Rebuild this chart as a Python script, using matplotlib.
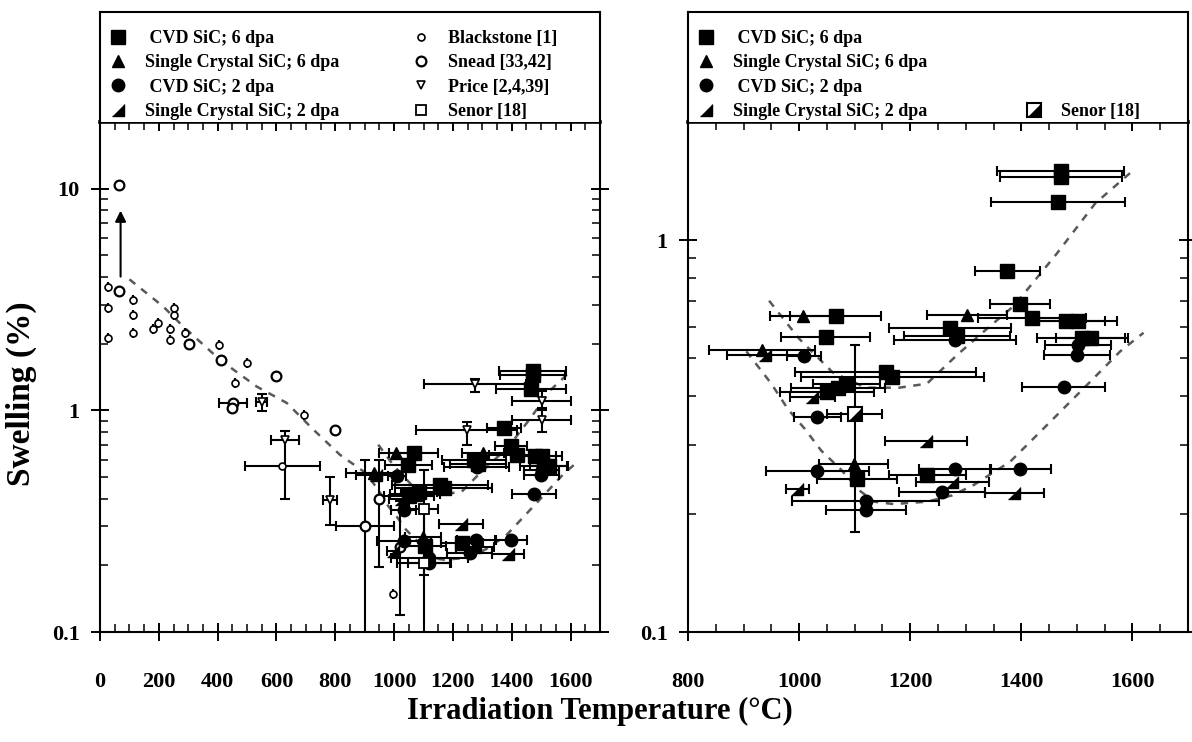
import numpy as np
import matplotlib
matplotlib.use("Agg")
import matplotlib.pyplot as plt
from matplotlib.ticker import MultipleLocator, FixedLocator, LogLocator, FuncFormatter, NullFormatter
from matplotlib.legend_handler import HandlerTuple

plt.rcParams['font.family'] = ['Liberation Serif', 'DejaVu Serif']
plt.rcParams['font.weight'] = 'bold'

# ---------------- data ----------------
# CVD SiC, 6 dpa (filled squares)
cvd6_T = [1471, 1471, 1466, 1375, 1398, 1419, 1480, 1502, 1510, 1525, 1066, 1048,
          1272, 1284, 1156, 1168, 1050, 1070, 1085, 1104, 1231]
cvd6_S = [1.50, 1.45, 1.25, 0.835, 0.687, 0.631, 0.622, 0.622, 0.561, 0.561, 0.64, 0.567,
          0.595, 0.57, 0.461, 0.448, 0.41, 0.42, 0.43, 0.245, 0.252]
cvd6_dT = [114, 110, 120, 58, 54, 97, 70, 70, 82, 62, 82, 80,
           110, 95, 163, 165, 85, 85, 60, 72, 70]

# Single crystal SiC, 6 dpa (filled triangles)
sc6_T = [1007, 933, 1302, 1098]
sc6_S = [0.64, 0.524, 0.644, 0.269]
sc6_dT = [60, 95, 72, 62]

# CVD SiC, 2 dpa (filled circles)
cvd2_T = [1009, 1033, 1281, 1502, 1500, 1476, 1033, 1120, 1120, 1257, 1280, 1398]
cvd2_S = [0.506, 0.354, 0.556, 0.54, 0.509, 0.421, 0.257, 0.216, 0.205, 0.228, 0.26, 0.26]
cvd2_dT = [30, 42, 110, 60, 60, 75, 92, 132, 72, 77, 65, 55]

# Single crystal SiC, 2 dpa (half triangles)
sc2_T = [939, 1024, 1228, 997, 1276, 1387]
sc2_S = [0.51, 0.398, 0.307, 0.232, 0.241, 0.226]
sc2_dT = [68, 40, 74, 21, 65, 53]

# literature data (left panel only)
black_T = [28, 28, 28, 113, 113, 113, 179, 198, 238, 238, 252, 252, 289, 405, 459, 499, 694, 997, 620]
black_S = [3.62, 2.89, 2.12, 3.15, 2.70, 2.24, 2.32, 2.49, 2.32, 2.08, 2.89, 2.68, 2.24, 1.97,
           1.33, 1.63, 0.953, 0.149, 0.56]
black_dT = [0] * 18 + [128]

snead_T = [65, 65, 303, 411, 598, 799, 453, 450, 901, 949, 1020]
snead_S = [10.4, 3.46, 1.99, 1.68, 1.43, 0.816, 1.076, 1.03, 0.30, 0.40, 0.243]
snead_dT = [0, 0, 0, 0, 0, 0, 48, 0, 99, 0, 0]
snead_lo = [10.4, 3.46, 1.99, 1.68, 1.43, 0.816, 1.076, 1.03, 0.05, 0.197, 0.119]
snead_hi = [10.4, 3.46, 1.99, 1.68, 1.43, 0.816, 1.076, 1.03, 0.60, 0.60, 0.39]

price_T = [550, 629, 782, 1247, 1275, 1502, 1502]
price_S = [1.094, 0.735, 0.394, 0.816, 1.315, 1.106, 0.905]
price_dT = [18, 48, 25, 172, 175, 100, 100]
price_lo = [0.99, 0.40, 0.304, 0.70, 1.21, 1.0, 0.80]
price_hi = [1.19, 0.81, 0.50, 0.89, 1.39, 1.22, 1.02]

# Senor: left panel shows two open points, right panel the upper one half-filled
senorL_T = [1100, 1100]
senorL_S = [0.36, 0.205]
senorL_dT = [50, 90]
senorL_lo = [0.18, 0.05]
senorL_hi = [0.54, 0.36]

senor_T = [1100]
senor_S = [0.36]
senor_dT = [50]
senor_lo = [0.18]
senor_hi = [0.54]

# dashed trend lines
low_T = [100, 215, 283, 408, 533, 635, 725, 816, 905, 950, 980, 1010, 1040, 1075, 1108, 1135,
         1170, 1230, 1275, 1314, 1380, 1446, 1524, 1578, 1620]
low_S = [3.9, 2.94, 2.39, 1.69, 1.28, 1.08, 0.82, 0.63, 0.52, 0.43, 0.37, 0.33, 0.29, 0.26, 0.23,
         0.215, 0.212, 0.215, 0.223, 0.237, 0.272, 0.337, 0.435, 0.52, 0.58]
high_T = [946, 1000, 1060, 1120, 1180, 1230, 1285, 1336, 1387, 1463, 1533, 1600]
high_S = [0.70, 0.56, 0.46, 0.42, 0.42, 0.43, 0.51, 0.59, 0.68, 0.92, 1.24, 1.5]

arrow_T = 70
arrow_from, arrow_to = 3.9, 8.2

RT = [(-1, -1), (1, -1), (1, 1)]  # "◢" marker

fig = plt.figure(figsize=(11.92, 7.42), dpi=100)

ax_w, ax_h, ax_b = 500 / 1192, 510 / 742, 110 / 742
leg_b, leg_h = 620 / 742, 110 / 742
lefts = [100 / 1192, 688 / 1192]


def style(ax, xlim, ylim, xmajor, yticks):
    ax.set_yscale('log')
    ax.set_xlim(*xlim)
    ax.set_ylim(*ylim)
    ax.xaxis.set_major_locator(MultipleLocator(xmajor))
    ax.xaxis.set_minor_locator(MultipleLocator(50))
    ax.yaxis.set_major_locator(FixedLocator(yticks))
    ax.yaxis.set_minor_locator(LogLocator(base=10, subs=range(2, 10)))
    ax.yaxis.set_major_formatter(FuncFormatter(lambda v, p: f'{v:g}'))
    ax.yaxis.set_minor_formatter(NullFormatter())
    ax.tick_params(which='major', direction='inout', length=13, width=1.4,
                   top=True, right=True, labelsize=16)
    ax.tick_params(axis='x', which='major', pad=22)
    ax.tick_params(axis='y', which='major', pad=8)
    ax.tick_params(which='minor', direction='in', length=6, width=1.1, top=True, right=True)
    for s in ax.spines.values():
        s.set_linewidth(1.5)
    ax.spines['top'].set_linewidth(2.6)


def errs(ax, T, S, dT, lo=None, hi=None):
    yerr = None
    if lo is not None:
        yerr = [np.array(S) - np.array(lo), np.array(hi) - np.array(S)]
    ax.errorbar(T, S, xerr=dT, yerr=yerr, fmt='none', ecolor='k', elinewidth=1.5,
                capsize=3.5, capthick=1.5, zorder=2)


def draw_common(ax, trend_min):
    lt = np.array(low_T)
    m = lt >= trend_min
    ax.plot(lt[m], np.array(low_S)[m], ls=(0, (3, 3)), color='0.35', lw=1.8, zorder=1)
    ax.plot(high_T, high_S, ls=(0, (3, 3)), color='0.35', lw=1.8, zorder=1)
    errs(ax, cvd6_T, cvd6_S, cvd6_dT)
    errs(ax, sc6_T, sc6_S, sc6_dT)
    errs(ax, cvd2_T, cvd2_S, cvd2_dT)
    errs(ax, sc2_T, sc2_S, sc2_dT)
    h1, = ax.plot(cvd6_T, cvd6_S, 's', color='k', ms=10, ls='none', zorder=4)
    h2, = ax.plot(sc6_T, sc6_S, '^', color='k', ms=8, ls='none', zorder=4)
    h3, = ax.plot(cvd2_T, cvd2_S, 'o', color='k', ms=9, ls='none', zorder=4)
    h4, = ax.plot(sc2_T, sc2_S, marker=RT, color='k', ms=8, ls='none', zorder=4)
    return [h1, h2, h3, h4]


labels_main = [' CVD SiC; 6 dpa', 'Single Crystal SiC; 6 dpa',
               ' CVD SiC; 2 dpa', 'Single Crystal SiC; 2 dpa']

# ---------------- left panel ----------------
axL = fig.add_axes([lefts[0], ax_b, ax_w, ax_h])
style(axL, (0, 1700), (0.1, 20), 200, [0.1, 1, 10])
hL = draw_common(axL, 0)
errs(axL, black_T, black_S, black_dT)
errs(axL, snead_T, snead_S, snead_dT, snead_lo, snead_hi)
errs(axL, price_T, price_S, price_dT, price_lo, price_hi)
errs(axL, senorL_T, senorL_S, senorL_dT, senorL_lo, senorL_hi)
hb, = axL.plot(black_T, black_S, 'o', mfc='white', mec='k', mew=1.2, ms=5, ls='none', zorder=3)
hs, = axL.plot(snead_T, snead_S, 'o', mfc='white', mec='k', mew=1.6, ms=7, ls='none', zorder=3)
hp, = axL.plot(price_T, price_S, 'v', mfc='white', mec='k', mew=1.2, ms=6, ls='none', zorder=3)
hn, = axL.plot(senorL_T, senorL_S, 's', mfc='white', mec='k', mew=1.3, ms=7, ls='none', zorder=5)
axL.annotate('', xy=(arrow_T, arrow_to), xytext=(arrow_T, arrow_from),
             arrowprops=dict(arrowstyle='-|>', color='k', lw=1.5, mutation_scale=16))

# ---------------- right panel ----------------
axR = fig.add_axes([lefts[1], ax_b, ax_w, ax_h])
style(axR, (800, 1700), (0.1, 2.0), 200, [0.1, 1])
hR = draw_common(axR, 900)
errs(axR, senor_T, senor_S, senor_dT, senor_lo, senor_hi)
rs1, = axR.plot(senor_T, senor_S, 's', mfc='white', mec='k', mew=1.5, ms=10, ls='none', zorder=5)
rs2, = axR.plot(senor_T, senor_S, marker=RT, color='k', ms=8, ls='none', zorder=6)

# ---------------- legend boxes ----------------
leg_kw = dict(frameon=False, fontsize=13, handletextpad=0.9, labelspacing=0.4,
              borderaxespad=0.0, handlelength=1.2, loc='upper left')

legL = fig.add_axes([lefts[0], leg_b, ax_w, leg_h])
legR = fig.add_axes([lefts[1], leg_b, ax_w, leg_h])
for la in (legL, legR):
    la.set_xticks([])
    la.set_yticks([])
    for s in la.spines.values():
        s.set_linewidth(1.5)
    la.spines['bottom'].set_visible(False)

l1 = legL.legend(hL, labels_main, bbox_to_anchor=(0.0, 0.9), **leg_kw)
legL.add_artist(l1)
legL.legend([hb, hs, hp, hn], ['Blackstone [1]', 'Snead [33,42]', 'Price [2,4,39]', 'Senor [18]'],
            bbox_to_anchor=(0.605, 0.9), **leg_kw)

l2 = legR.legend(hR, labels_main, bbox_to_anchor=(0.0, 0.9), **leg_kw)
legR.add_artist(l2)
legR.legend([(rs1, rs2)], ['Senor [18]'], handler_map={tuple: HandlerTuple(ndivide=1)},
            bbox_to_anchor=(0.655, 0.235), **leg_kw)

# axis titles
fig.text(0.503, 0.022, 'Irradiation Temperature (°C)', ha='center', va='bottom',
         fontsize=22, fontweight='bold')
fig.text(0.018, 0.47, 'Swelling (%)', ha='center', va='center', rotation=90,
         fontsize=24, fontweight='bold')

fig.savefig('out.png', dpi=100)
